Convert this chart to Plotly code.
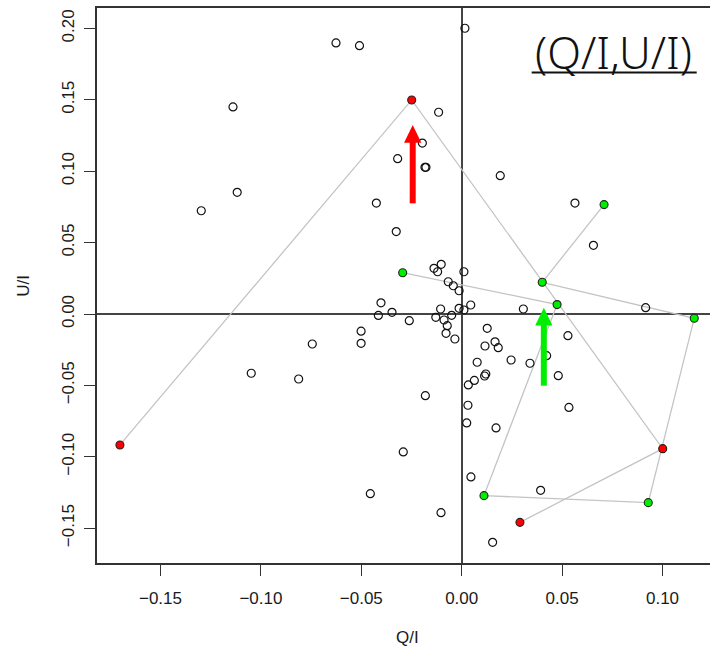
import plotly.graph_objects as go

# Polarisation measurements: normalised Stokes parameters
q_all = [0.0016, -0.0626, -0.0509, -0.1139, -0.0115, -0.0196, -0.0319, -0.0183,
         -0.0178, 0.0192, -0.1118, -0.1297, -0.0425, 0.0564, 0.0656, -0.0326,
         -0.0138, -0.0102, -0.0120, 0.0011, -0.0067, -0.0042, -0.0013, -0.0402,
         -0.0415, -0.0347, -0.0261, -0.0105, -0.0129, -0.0088, -0.0050, -0.0072,
         -0.0078, -0.0034, -0.0013, 0.0011, 0.0045, 0.0307, 0.0916, -0.0501,
         -0.0501, -0.0744, -0.1048, -0.0812, 0.0127, 0.0166, 0.0116, 0.0182,
         0.0529, 0.0077, 0.0246, 0.0340, 0.0423, 0.0120, 0.0114, 0.0063,
         0.0033, 0.0481, -0.0181, 0.0031, 0.0534, 0.0025, 0.0171, -0.0291,
         0.0046, -0.0455, 0.0393, -0.0103, 0.0154]
u_all = [0.2001, 0.1898, 0.1879, 0.1450, 0.1413, 0.1197, 0.1088, 0.1027,
         0.1027, 0.0969, 0.0852, 0.0723, 0.0777, 0.0777, 0.0481, 0.0577,
         0.0320, 0.0348, 0.0296, 0.0296, 0.0226, 0.0198, 0.0163, 0.0078,
         -0.0010, 0.0012, -0.0047, 0.0035, -0.0023, -0.0042, -0.0009, -0.0082,
         -0.0135, -0.0175, 0.0040, 0.0028, 0.0063, 0.0035, 0.0044, -0.0120,
         -0.0205, -0.0210, -0.0415, -0.0455, -0.0100, -0.0195, -0.0224, -0.0236,
         -0.0152, -0.0338, -0.0322, -0.0345, -0.0292, -0.0420, -0.0434, -0.0465,
         -0.0497, -0.0432, -0.0572, -0.0639, -0.0654, -0.0763, -0.0798, -0.0966,
         -0.1141, -0.1258, -0.1235, -0.1391, -0.1599]

# Sequences tracked over time
q_red = [-0.1702, -0.0249, 0.1001, 0.0290]
u_red = [-0.0917, 0.1499, -0.0943, -0.1459]

q_green = [0.0709, 0.0401, 0.1158, 0.0929, 0.0111, 0.0475, -0.0294]
u_green = [0.0766, 0.0222, -0.0030, -0.1321, -0.1272, 0.0066, 0.0289]

x_ticks = [-0.15, -0.10, -0.05, 0.00, 0.05, 0.10]
y_ticks = [-0.15, -0.10, -0.05, 0.00, 0.05, 0.10, 0.15, 0.20]

AXIS_FONT = dict(family="Liberation Sans, Arial, sans-serif", size=17, color="#1a1a1a")
FRAME = "#333333"
PATH_GREY = "#c4c4c4"

fig = go.Figure()

# connecting paths (drawn underneath the points)
for qs, us in ((q_red, u_red), (q_green, u_green)):
    fig.add_trace(go.Scatter(x=qs, y=us, mode="lines",
                             line=dict(color=PATH_GREY, width=1.3),
                             hoverinfo="skip", showlegend=False))

fig.add_trace(go.Scatter(
    x=q_all, y=u_all, mode="markers", showlegend=False,
    marker=dict(symbol="circle-open", size=8, color="#111111",
                line=dict(width=1.2, color="#111111"))))

for qs, us, col in ((q_red, u_red, "#ff0000"), (q_green, u_green, "#00ee00")):
    fig.add_trace(go.Scatter(
        x=qs, y=us, mode="markers", showlegend=False,
        marker=dict(symbol="circle", size=8, color=col,
                    line=dict(width=1.1, color="#222222"))))

# vertical direction arrows: (x, tail y, tip y, colour)
arrows = [(-0.0244, 0.0775, 0.1324, "#ff0000"),
          (0.0409, -0.0502, 0.0044, "#00ee00")]
HEAD_HALF_W = 0.0043   # in Q units
HEAD_LEN = 0.0124      # in U units
for ax_, y0, y1, col in arrows:
    fig.add_shape(type="line", x0=ax_, x1=ax_, y0=y0, y1=y1 - HEAD_LEN * 0.5,
                  xref="x", yref="y", line=dict(color=col, width=6))
    fig.add_shape(type="path", xref="x", yref="y",
                  path=(f"M {ax_ - HEAD_HALF_W},{y1 - HEAD_LEN} "
                        f"L {ax_ + HEAD_HALF_W},{y1 - HEAD_LEN} L {ax_},{y1} Z"),
                  fillcolor=col, line=dict(color=col, width=0))

# title label with underline
fig.add_annotation(text="(Q/I,U/I)", xref="paper", yref="paper",
                   x=0.8418, y=0.921, xanchor="center", yanchor="middle",
                   showarrow=False,
                   font=dict(family="Noto Sans, Open Sans, sans-serif", size=44,
                             color="#111111", weight=300))
fig.add_shape(type="line", xref="paper", yref="paper",
              x0=0.7091, x1=0.9783, y0=0.8838, y1=0.8838,
              line=dict(color="#111111", width=2))

# axis titles
fig.add_annotation(text="Q/I", xref="paper", yref="paper", x=0.5069, y=-0.1342,
                   xanchor="center", yanchor="middle", showarrow=False,
                   font=dict(AXIS_FONT, size=17))
fig.add_annotation(text="U/I", xref="paper", yref="paper", x=-0.1202, y=0.5,
                   xanchor="center", yanchor="middle", showarrow=False,
                   textangle=-90, font=dict(AXIS_FONT, size=17))

fig.update_xaxes(range=[-0.18162, 0.12365], tickvals=x_ticks, tickformat=".2f",
                 ticks="outside", ticklen=11, tickwidth=1.3, tickcolor=FRAME,
                 tickfont=AXIS_FONT, ticklabelstandoff=8, showgrid=False,
                 showline=True, linecolor=FRAME, linewidth=1.5, mirror=True,
                 zeroline=True, zerolinecolor="#444444", zerolinewidth=1.5)
fig.update_yaxes(range=[-0.17437, 0.21429], tickvals=y_ticks, tickformat=".2f",
                 ticks="outside", ticklen=11, tickwidth=1.3, tickcolor=FRAME,
                 tickfont=AXIS_FONT, tickangle=-90, ticklabelstandoff=3,
                 showgrid=False,
                 showline=True, linecolor=FRAME, linewidth=1.5, mirror=False,
                 zeroline=True, zerolinecolor="#444444", zerolinewidth=1.5)

fig.update_layout(width=710, height=649,
                  margin=dict(l=97, r=0, t=8, b=86, pad=0),
                  paper_bgcolor="white", plot_bgcolor="white")

fig.write_html("out.html")
